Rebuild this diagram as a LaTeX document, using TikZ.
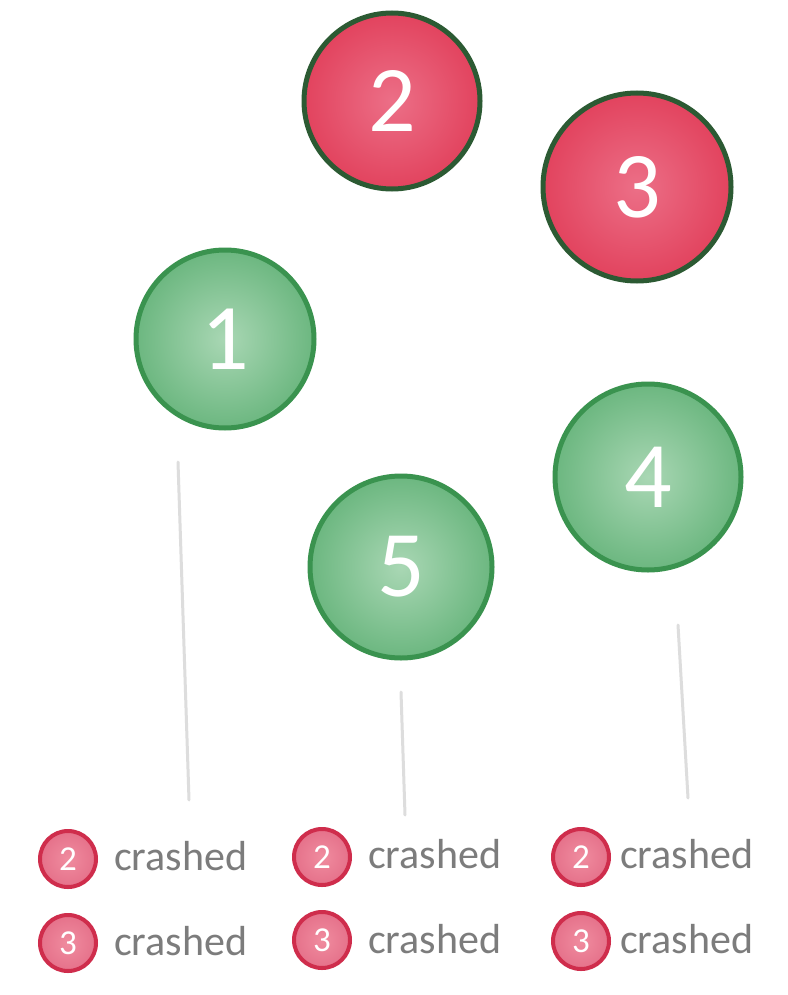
\documentclass[tikz,border=0pt]{standalone}
\usepackage{fontspec}
\setmainfont{Carlito}
\definecolor{redfill}{HTML}{E2435E}
\definecolor{redin}{HTML}{EC6F87}
\definecolor{darkgreen}{HTML}{2C5A33}
\definecolor{greenfill}{HTML}{6CB780}
\definecolor{greenin}{HTML}{A9D7B4}
\definecolor{greenborder}{HTML}{3A934F}
\definecolor{smallfill}{HTML}{E5718A}
\definecolor{smallborder}{HTML}{CF2D4C}
\definecolor{txtgray}{HTML}{7C7C7C}
\definecolor{linegray}{HTML}{DDDDDD}
\tikzset{
  redball/.style={circle, draw=darkgreen, line width=5pt, inner color=redin, outer color=redfill, text=white, font=\fontsize{94}{94}\selectfont},
  greenball/.style={circle, draw=greenborder, line width=5pt, inner color=greenin, outer color=greenfill, text=white, font=\fontsize{94}{94}\selectfont},
  smallball/.style={circle, draw=smallborder, line width=4pt, inner color=redin!80!white, outer color=smallfill, text=white, minimum size=56pt, inner sep=0pt, font=\fontsize{35}{35}\selectfont},
  crashtxt/.style={text=txtgray, anchor=west, inner sep=0pt, font=\fontsize{42}{42}\selectfont},
  stem/.style={draw=linegray, line width=3pt, line cap=round}
}
\begin{document}
\begin{tikzpicture}[x=1pt,y=-1pt]
\useasboundingbox[fill=white] (0,0) rectangle (787,995);
\node[redball, minimum size=176pt] (n2) at (392,101) {2};
\node[redball, minimum size=188pt] (n3) at (637,187) {3};
\node[greenball, minimum size=178pt] (n1) at (225,339) {1};
\node[greenball, minimum size=186pt] (n4) at (648,477) {4};
\node[greenball, minimum size=182pt] (n5) at (401,567) {5};

\coordinate (a1) at (178,462);
\coordinate (b1) at (189,800);
\coordinate (a5) at (401,692);
\coordinate (b5) at (405,815);
\coordinate (a4) at (678,625);
\coordinate (b4) at (688,798);
\draw[stem] (a1) -- (b1);
\draw[stem] (a5) -- (b5);
\draw[stem] (a4) -- (b4);

\node[smallball] (s12) at (68,859) {2};
\node[smallball] (s13) at (68,943) {3};
\node[smallball] (s52) at (322,857) {2};
\node[smallball] (s53) at (322,940) {3};
\node[smallball] (s42) at (581,857) {2};
\node[smallball] (s43) at (581,941) {3};

\node[crashtxt] (t12) at (114,856) {crashed};
\node[crashtxt] (t13) at (114,941) {crashed};
\node[crashtxt] (t52) at (368,854) {crashed};
\node[crashtxt] (t53) at (368,939) {crashed};
\node[crashtxt] (t42) at (620,854) {crashed};
\node[crashtxt] (t43) at (620,939) {crashed};
\end{tikzpicture}
\end{document}
